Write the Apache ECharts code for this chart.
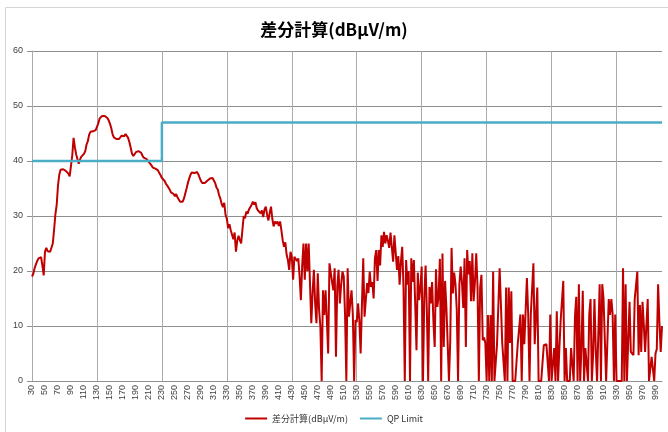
<!DOCTYPE html>
<html><head><meta charset="utf-8">
<script src="https://cdn.jsdelivr.net/npm/echarts@6/dist/echarts.min.js"></script>
<style>html,body{margin:0;padding:0;background:#fff}#chart{width:668px;height:432px}</style>
</head><body><div id="chart"></div>
<script>
const titleText = '差分計算(dBμV/m)';
const seriesNames = ['差分計算(dBμV/m)', 'QP Limit'];
const freqStart = 30, freqEnd = 1000, freqStep = 2;
// measured difference values, one per 2 MHz from 30 to 1000
const diffValues = [
19, 19.5, 20.5, 21.2, 21.8, 22.3, 22.6, 22.5, 21, 19.2,
23.5, 24.2, 23.6, 23.4, 23.5, 23.6, 25, 27.5, 30.3, 32,
35.5, 37.5, 38.4, 38.6, 38.5, 38.5, 38.2, 38, 37.7, 37.2,
37.3, 41, 44.2, 42.5, 41.2, 40.3, 39.5, 40.3, 40.8, 41,
41.3, 41.8, 43, 43.6, 44.8, 45.3, 45.6, 45.4, 45.7, 45.6,
45.9, 46.8, 47.7, 48, 48.2, 48, 48.2, 47.9, 47.8, 47.4,
46.8, 46, 44.9, 44.3, 44, 44, 44.1, 44, 44.2, 44.6,
44.7, 44.5, 44.9, 44.6, 44.2, 43.4, 42.4, 41.3, 40.9, 41.2,
41.6, 41.7, 41.8, 41.7, 41.5, 41, 40.6, 40.7, 40.4, 40.1,
39.8, 39.5, 39.2, 38.8, 38.7, 38.6, 38.6, 38.3, 37.8, 37.4,
36.9, 37.2, 36.4, 35.9, 36.1, 35.2, 34.8, 34.3, 34.5, 34,
33.6, 34, 33.4, 33, 32.6, 32.3, 32.6, 33.2, 33.5, 35,
36, 36.8, 37.5, 37.9, 38.1, 37.8, 37.6, 38, 37.6, 37,
36.4, 36, 35.8, 36, 36.2, 36.4, 36.5, 36.8, 36.7, 36.9,
36.6, 36, 35.2, 34.8, 33.8, 33.2, 32.2, 31.6, 32.4, 30.2,
29.5, 27.8, 28.5, 27.4, 27.6, 25.8, 27, 23.5, 25.5, 26.4,
25.6, 25, 27.5, 30, 29.6, 30.8, 30.4, 31.2, 31.6, 32,
32.6, 32.1, 32.5, 31.4, 31, 31.3, 30.5, 31, 29.8, 31.2,
31.7, 30.2, 29.2, 30.6, 31.7, 29.5, 28.1, 29, 28.6, 29,
28.2, 29, 27.4, 25.6, 24.4, 25.2, 23, 22, 20.2, 23.5,
22.6, 18.4, 22.6, 22.4, 21.8, 22.3, 19, 14.7, 21, 25,
18.4, 25, 20, 25, 17.8, 10.5, 16, 20.2, 14, 10.5,
19.6, 13, 9.9, 0, 16.5, 12, 16.5, 11, 5, 21.4,
21.7, 18, 16.5, 20.5, 4.4, 17.1, 20.2, 14.1, 17.5, 19.9,
19, 12, 0, 20.5, 11.7, 14.1, 16.5, 12, 0, 11.1,
10.7, 14.1, 11, 5, 14, 22.3, 11.7, 11.8, 17.8, 16,
19.9, 17.1, 18, 15, 22.3, 23.8, 18.2, 23.8, 21, 26.5,
24.4, 27.1, 25, 26.5, 25.5, 24.2, 27, 26.8, 21.7, 26.5,
23.3, 20.2, 22.7, 17.5, 21.7, 24.4, 17, 0, 22, 17.5,
20, 0, 22.3, 18, 22, 14, 5.6, 19.7, 14.7, 17,
20.8, 0, 15.3, 21, 12.5, 0, 17.1, 14.1, 18, 11,
6.2, 20.3, 13.5, 15.3, 22.2, 0, 23.2, 6.2, 18.2, 13.5,
13.5, 0, 7.5, 24.2, 15.9, 19.7, 17.6, 13, 0, 17.5,
20.8, 17.9, 13.3, 22.3, 6.2, 23.8, 19.4, 21.8, 14.5, 23.2,
14.5, 18, 23.2, 17, 0, 17, 19.3, 7.4, 7.9, 6.9,
0, 12, 0, 12, 0, 19.9, 0, 0, 6.7, 6.9,
20.5, 13.9, 6.9, 6.9, 0, 17, 0, 17, 6.9, 16.3,
0, 0, 0, 0, 6.9, 6.9, 12.1, 0, 12.1, 6.7,
6.7, 18.7, 12.1, 0, 12.1, 12.1, 21.4, 6.7, 6.7, 17,
0, 0, 0, 0, 6.5, 6.7, 6.7, 6.5, 0, 12.1,
0, 0, 6, 0, 12.7, 0, 6, 11, 11.1, 18.2,
0, 6, 0, 0, 0, 6, 6.1, 0, 11.7, 15.3,
0, 17.6, 0, 6, 16.4, 0, 6, 6, 0, 12.1,
14.9, 0, 5, 14.9, 5.6, 0, 0, 17.6, 0, 17.6,
14.9, 14.9, 0, 0, 14.9, 12, 14.9, 12.1, 0, 12.1,
0, 0, 0, 0, 0, 20.5, 0, 17.6, 0, 0,
14.4, 5.3, 5.3, 4.7, 14.9, 14.9, 19.9, 4.7, 13.8, 5.3,
14.4, 10.2, 5.3, 5.3, 14.9, 0, 0, 4.4, 4.4, 0,
5, 5.8, 17.6, 10.8, 5.3, 10
];
// QP limit: [from MHz, to MHz, level]
const limitSegments = [[30, 230, 40], [230, 1000, 47]];
const yMin = 0, yMax = 60, yInterval = 10;

const categories = [];
for (let f = freqStart; f <= freqEnd; f += freqStep) categories.push(String(f));
const limitValues = categories.map(c => {
  const f = +c;
  const seg = limitSegments.find(s => f > s[0] && f <= s[1]) || limitSegments[0];
  return seg[2];
});

const chart = echarts.init(document.getElementById('chart'), null, {renderer: 'canvas'});
const baseFont = '"Liberation Sans", "Noto Sans CJK JP", sans-serif';
chart.setOption({
  animation: false,
  backgroundColor: '#fff',
  textStyle: {fontFamily: baseFont},
  graphic: [{
    type: 'rect', silent: true, z: -10,
    shape: {x: 5.5, y: 7.5, width: 700, height: 500},
    style: {fill: 'none', stroke: '#d4d4d4', lineWidth: 1}
  }],
  title: {
    text: titleText, left: 'center', top: 16,
    textStyle: {fontSize: 17, fontWeight: 'bold', color: '#000', fontFamily: '"Noto Sans CJK JP", sans-serif'}
  },
  legend: {
    bottom: 4, left: 'center', icon: 'rect', itemWidth: 22, itemHeight: 2, itemGap: 12,
    textStyle: {fontSize: 9, color: '#333', fontFamily: '"Noto Sans CJK JP", sans-serif'},
    data: seriesNames
  },
  grid: {left: 32, right: 6, top: 51, bottom: 51, containLabel: false},
  xAxis: {
    type: 'category', data: categories, boundaryGap: false,
    axisLine: {lineStyle: {color: '#8f8f8f', width: 1}},
    axisTick: {show: false},
    axisLabel: {interval: 9, rotate: 90, fontSize: 9, color: '#404040', margin: 4},
    splitLine: {show: true, interval: 49, lineStyle: {color: '#ababab', width: 1}}
  },
  yAxis: {
    type: 'value', min: yMin, max: yMax, interval: yInterval,
    axisLine: {show: true, lineStyle: {color: '#ababab'}},
    axisTick: {show: true, length: 5, lineStyle: {color: '#8f8f8f'}},
    axisLabel: {fontSize: 9, color: '#404040', margin: 9},
    splitLine: {show: true, lineStyle: {color: '#8f8f8f', width: 1}}
  },
  series: [
    {
      name: seriesNames[0], type: 'line', data: diffValues, showSymbol: false, symbol: 'none',
      lineStyle: {color: '#c00000', width: 2}, itemStyle: {color: '#c00000'}, z: 3
    },
    {
      name: seriesNames[1], type: 'line', data: limitValues, step: 'start', showSymbol: false, symbol: 'none',
      lineStyle: {color: '#4bacc6', width: 2.5}, itemStyle: {color: '#4bacc6'}, z: 4
    }
  ]
});
</script></body></html>
